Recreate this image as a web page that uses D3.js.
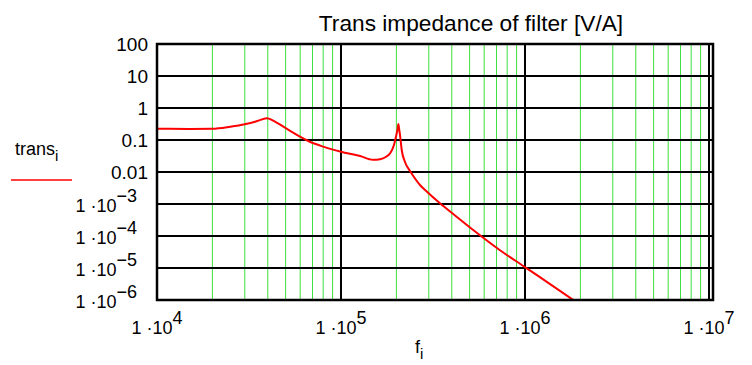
<html>
  <script src='https://d3js.org/d3.v7.min.js'></script>
  <head>
    <title>Trans impedance of filter</title>
    <style>
      body { margin: 0; background: white; }
      text { font-family: Arial, "Liberation Sans", sans-serif; fill: black; }
    </style>
  </head>
  <body>
    <svg></svg>
    <script>
      // curve: frequency [Hz] and trans impedance [V/A]
      const freq = [1.0e4, 1.5e4, 2.0e4, 2.5e4, 3.0e4, 3.5e4, 3.95e4, 4.4e4, 4.86e4, 5.4e4,
                    5.98e4, 6.64e4, 8.01e4, 1.0e5, 1.27e5, 1.49e5, 1.63e5, 1.76e5, 1.85e5, 1.94e5,
                    1.99e5, 2.03e5, 2.05e5, 2.07e5, 2.093e5, 2.138e5, 2.227e5, 2.371e5, 2.471e5, 2.687e5,
                    2.923e5, 3.451e5, 4.166e5, 5.024e5, 7.313e5, 1.004e6, 1.801e6, 1.9e6];
      const trans = [0.225, 0.222, 0.225, 0.26, 0.31, 0.39, 0.477, 0.37, 0.26, 0.18,
                     0.127, 0.093, 0.062, 0.043, 0.0316, 0.024, 0.0249, 0.030, 0.0384, 0.0698,
                     0.127, 0.22, 0.316, 0.22, 0.143, 0.0487, 0.0205, 0.01075, 0.0075, 0.00392,
                     0.00246, 1.05e-3, 4.37e-4, 1.84e-4, 3.6e-5, 1.05e-5, 1.07e-6, 8.65e-7];

      const yTicks = [100, 10, 1, 0.1, 0.01, 1e-3, 1e-4, 1e-5, 1e-6];
      const yTickBase = ["100", "10", "1", "0.1", "0.01", "1 \u00b710", "1 \u00b710", "1 \u00b710", "1 \u00b710"];
      const yTickExp = ["", "", "", "", "", "\u22123", "\u22124", "\u22125", "\u22126"];
      const xTicks = [1e4, 1e5, 1e6, 1e7];
      const xTickBase = ["1 \u00b710", "1 \u00b710", "1 \u00b710", "1 \u00b710"];
      const xTickExp = ["4", "5", "6", "7"];

      const data = freq.map(function(f, i) { return {f: f, v: trans[i]}; });

      const width = 752, height = 365;
      const plotLeft = 157, plotRight = 709, plotTop = 44, plotBottom = 300;

      const svg = d3.select("svg").attr("width", width).attr("height", height);

      const x = d3.scaleLog().domain([1e4, 1e7]).range([plotLeft, plotRight]);
      const y = d3.scaleLog().domain([1e-6, 100]).range([plotBottom, plotTop]);

      // minor vertical grid (green)
      const minor = x.ticks().filter(function(t) { return xTicks.indexOf(t) < 0; });
      svg.append("g").selectAll("line").data(minor).enter().append("line")
        .attr("x1", function(d) { return x(d); }).attr("x2", function(d) { return x(d); })
        .attr("y1", plotTop).attr("y2", plotBottom)
        .attr("stroke", "#3ee03e").attr("stroke-width", 1);

      // major grid (black)
      svg.append("g").selectAll("line").data(xTicks).enter().append("line")
        .attr("x1", function(d) { return x(d); }).attr("x2", function(d) { return x(d); })
        .attr("y1", plotTop).attr("y2", plotBottom)
        .attr("stroke", "black").attr("stroke-width", 2);
      svg.append("g").selectAll("line").data(yTicks).enter().append("line")
        .attr("x1", plotLeft).attr("x2", plotRight + 4)
        .attr("y1", function(d) { return y(d); }).attr("y2", function(d) { return y(d); })
        .attr("stroke", "black").attr("stroke-width", 2);

      svg.append("clipPath").attr("id", "plot")
        .append("rect").attr("x", plotLeft).attr("y", plotTop)
        .attr("width", plotRight + 4 - plotLeft).attr("height", plotBottom - plotTop);

      const line = d3.line()
        .x(function(d) { return x(d.f); })
        .y(function(d) { return y(d.v); })
        .curve(d3.curveMonotoneX);

      svg.append("path")
        .datum(data)
        .attr("clip-path", "url(#plot)")
        .attr("fill", "none")
        .attr("stroke", "red")
        .attr("stroke-width", 2)
        .attr("d", line);

      // frame
      svg.append("rect")
        .attr("x", plotLeft).attr("y", plotTop)
        .attr("width", plotRight + 4 - plotLeft).attr("height", plotBottom - plotTop)
        .attr("fill", "none").attr("stroke", "black").attr("stroke-width", 2.5);

      // y tick labels
      yTicks.forEach(function(t, i) {
        const lab = svg.append("text")
          .attr("text-anchor", "end")
          .style("font-size", yTickExp[i] ? "18px" : "19px")
          .attr("x", yTickExp[i] ? 137 : 148)
          .attr("y", y(t) + (yTickExp[i] ? 7.5 : 7));
        lab.append("tspan").text(yTickBase[i]);
        if (yTickExp[i]) lab.append("tspan").attr("dy", -10).text(yTickExp[i]);
      });

      // x tick labels
      xTicks.forEach(function(t, i) {
        const lab = svg.append("text")
          .attr("text-anchor", "middle")
          .style("font-size", "18px")
          .attr("x", x(t))
          .attr("y", 333.5);
        lab.append("tspan").text(xTickBase[i]);
        lab.append("tspan").attr("dy", -10).text(xTickExp[i]);
      });

      // title
      svg.append("text")
        .attr("x", 471).attr("y", 31)
        .attr("text-anchor", "middle")
        .style("font-size", "22.7px")
        .text("Trans impedance of filter [V/A]");

      // axis label
      const xl = svg.append("text").attr("x", 415).attr("y", 353.3).style("font-size", "18px");
      xl.append("tspan").text("f");
      xl.append("tspan").attr("dy", 6).style("font-size", "15px").text("i");

      // legend
      const lg = svg.append("text").attr("x", 15).attr("y", 155).style("font-size", "18px");
      lg.append("tspan").text("trans");
      lg.append("tspan").attr("dy", 6).style("font-size", "15px").text("i");
      svg.append("line")
        .attr("x1", 11).attr("x2", 72).attr("y1", 180).attr("y2", 180)
        .attr("stroke", "red").attr("stroke-width", 1.5);
    </script>
  </body>
</html>
